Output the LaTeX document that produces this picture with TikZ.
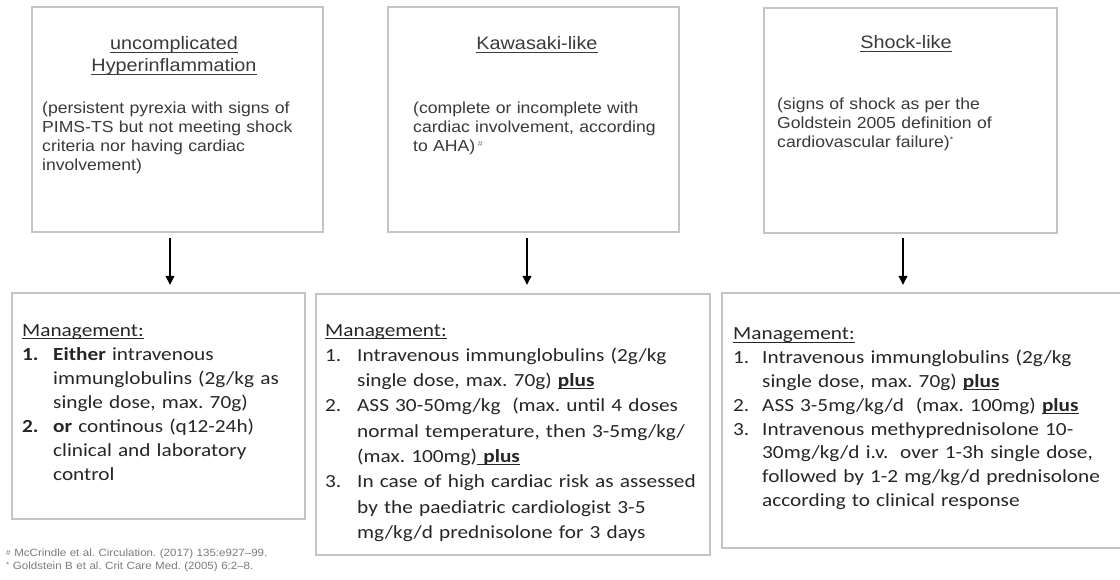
\documentclass[tikz,border=0pt]{standalone}
\usepackage{fontspec}
\usetikzlibrary{arrows.meta,calc}
\newfontfamily\arialf[FakeStretch=1.1]{Liberation Sans}
\newfontfamily\calf[FakeStretch=1.15]{Carlito}
\definecolor{boxgray}{HTML}{C4C4C4}
\definecolor{toptext}{HTML}{3A3A3A}
\definecolor{bottext}{HTML}{262626}
\definecolor{notegray}{HTML}{7A7A7A}
\newlength\ulwd
\newcommand\ulx[1]{\leavevmode\settowidth\ulwd{#1}\rlap{\rule[-2.8pt]{\ulwd}{1.1pt}}#1}
\newcommand\numb[1]{\makebox[31pt][l]{#1}}
\frenchspacing
\begin{document}
\begin{tikzpicture}[x=1pt,y=-1pt,
  frame/.style={draw=boxgray,line width=1.4pt,inner sep=0pt,outer sep=0pt,fill=white},
  titletext/.style={inner sep=0pt,anchor=base,align=center,text width=270pt,
    text=toptext,font=\arialf\fontsize{18}{22}\selectfont},
  bodytext/.style={inner sep=0pt,anchor=base west,align=left,text width=275pt,
    text=toptext,font=\arialf\fontsize{16}{18.7}\selectfont},
  mgmt/.style={inner sep=0pt,anchor=base west,align=left,text width=#1,
    text=bottext},
  flowarrow/.style={line width=1.8pt,-{Triangle[width=8.5pt,length=9pt]}},
  notetext/.style={inner sep=0pt,anchor=base west,align=left,text width=400pt,
    text=notegray,font=\arialf\fontsize{10.5}{13.8}\selectfont}]
\useasboundingbox (0,0) rectangle (1120,580);
\fill[white] (0,0) rectangle (1120,580);

% top boxes
\node[frame,minimum width=291pt,minimum height=225pt] (b1) at (177.5,119.5) {};
\node[frame,minimum width=291pt,minimum height=225pt] (b2) at (533.5,119.5) {};
\node[frame,minimum width=293pt,minimum height=225pt] (b3) at (910.5,120.5) {};

% bottom boxes
\node[frame,minimum width=293pt,minimum height=226pt] (m1) at (158.5,406) {};
\node[frame,minimum width=394pt,minimum height=261pt] (m2) at (513,424.5) {};
\node[frame,minimum width=406pt,minimum height=255pt] (m3) at (925,420.5) {};

% arrows
\coordinate (x1) at (170,0);
\coordinate (x2) at (527,0);
\coordinate (x3) at (903,0);
\draw[flowarrow] ($(b1.south -| x1)+(0,6)$) -- ($(m1.north -| x1)+(0,-8)$);
\draw[flowarrow] ($(b2.south -| x2)+(0,6)$) -- ($(m2.north -| x2)+(0,-9)$);
\draw[flowarrow] ($(b3.south -| x3)+(0,5)$) -- ($(m3.north -| x3)+(0,-8)$);

% top texts
\node[titletext] (t1) at (174,50) {\ulx{uncomplicated}\\\ulx{Hyperinflammation}};
\node[bodytext] (p1) at (42,114) {(persistent pyrexia with signs of\\PIMS-TS but not meeting shock\\criteria nor having cardiac\\involvement)};

\node[titletext] (t2) at (537,50) {\ulx{Kawasaki-like}};
\node[bodytext] (p2) at (413,114) {(complete or incomplete with\\cardiac involvement, according\\to AHA)\,\raisebox{5pt}{\textcolor{notegray}{\fontsize{8}{8}\selectfont\#}}};

\node[titletext] (t3) at (906,49) {\ulx{Shock-like}};
\node[bodytext] (p3) at (777,110) {(signs of shock as per the\\Goldstein 2005 definition of\\cardiovascular failure)\raisebox{5pt}{\fontsize{8}{8}\selectfont*}};

% management texts
\node[mgmt=280pt,font=\calf\fontsize{18.5}{24.1}\selectfont] (n1) at (22,336) {\ulx{Management:}\\
\numb{\textbf{1.}}\textbf{Either} intravenous\\
\hspace*{31pt}immunglobulins (2g/kg as\\
\hspace*{31pt}single dose, max. 70g)\\
\numb{\textbf{2.}}\textbf{or} continous (q12-24h)\\
\hspace*{31pt}clinical and laboratory\\
\hspace*{31pt}control};

\node[mgmt=380pt,font=\calf\fontsize{18.5}{25.3}\selectfont] (n2) at (325,336) {\ulx{Management:}\\
\makebox[32pt][l]{1.}Intravenous immunglobulins (2g/kg\\
\hspace*{32pt}single dose, max. 70g) \ulx{\textbf{plus}}\\
\makebox[32pt][l]{2.}ASS 30-50mg/kg\hspace{0.3em} (max. until 4 doses\\
\hspace*{32pt}normal temperature, then 3-5mg/kg/\\
\hspace*{32pt}(max. 100mg)\ulx{\ \textbf{plus}}\\
\makebox[32pt][l]{3.}In case of high cardiac risk as assessed\\
\hspace*{32pt}by the paediatric cardiologist 3-5\\
\hspace*{32pt}mg/kg/d prednisolone for 3 days};

\node[mgmt=385pt,font=\calf\fontsize{18.5}{23.8}\selectfont] (n3) at (733,340) {\ulx{Management:}\\
\makebox[29pt][l]{1.}Intravenous immunglobulins (2g/kg\\
\hspace*{29pt}single dose, max. 70g) \ulx{\textbf{plus}}\\
\makebox[29pt][l]{2.}ASS 3-5mg/kg/d\hspace{0.3em} (max. 100mg) \ulx{\textbf{plus}}\\
\makebox[29pt][l]{3.}Intravenous methyprednisolone 10-\\
\hspace*{29pt}30mg/kg/d i.v.\hspace{0.3em} over 1-3h single dose,\\
\hspace*{29pt}followed by 1-2 mg/kg/d prednisolone\\
\hspace*{29pt}according to clinical response};

% footnotes
\node[notetext] (f1) at (6,556) {\raisebox{0.5pt}{\fontsize{7.5}{7.5}\selectfont\#} McCrindle et al. Circulation. (2017) 135:e927–99.\\
\raisebox{2pt}{\fontsize{7.5}{7.5}\selectfont*} Goldstein B et al. Crit Care Med. (2005) 6:2–8.};
\end{tikzpicture}
\end{document}
